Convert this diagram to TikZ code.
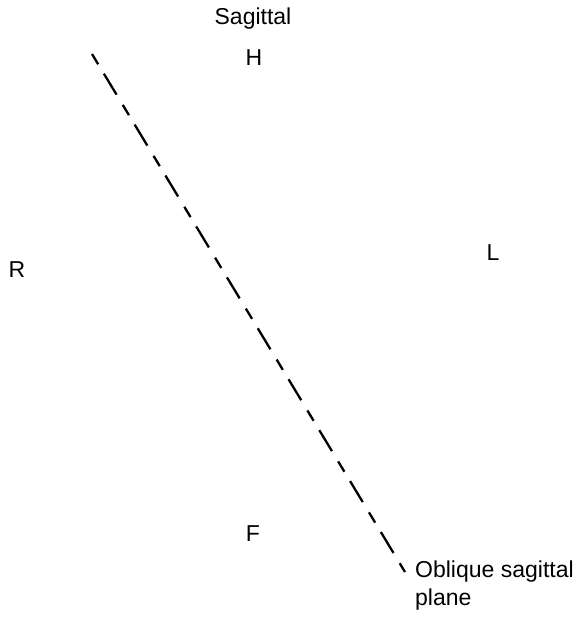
\documentclass[tikz,border=0pt]{standalone}
\usepackage{fontspec}
\setmainfont{Liberation Sans}
\begin{document}
\begin{tikzpicture}[x=1pt,y=-1pt,
  lbl/.style={font=\fontsize{23}{28}\selectfont, inner sep=0pt},
  plane/.style={line width=2.3pt, dash pattern=on 12pt off 11pt on 24.5pt off 12pt}]
\useasboundingbox (0,0) rectangle (584,618);
\node[lbl] (sag) at (253,19) {Sagittal};
\node[lbl] (H) at (254,58) {H};
\node[lbl] (R) at (17,270) {R};
\node[lbl] (L) at (493,253) {L};
\node[lbl] (F) at (253,534) {F};
\node[lbl, anchor=base west, align=left] (obl) at (415,605) {Oblique sagittal\\plane};
\coordinate (top) at (92,54);
\coordinate (bot) at (405,572);
\draw[plane] (top) -- (bot);
\end{tikzpicture}
\end{document}
